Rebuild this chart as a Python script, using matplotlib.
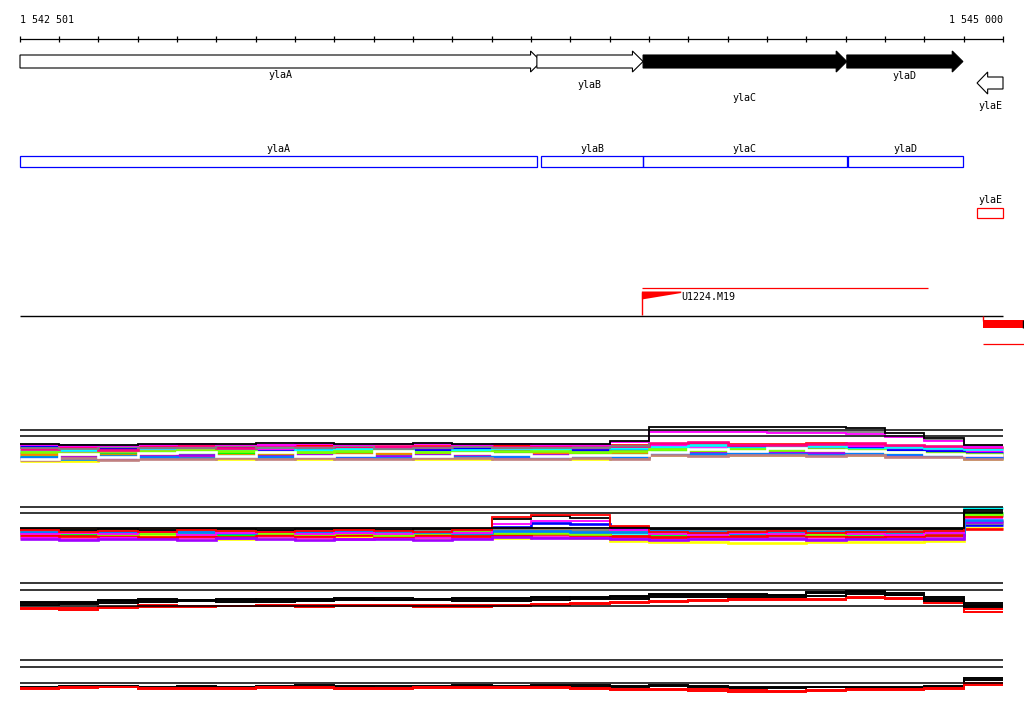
import matplotlib.pyplot as plt
from matplotlib.patches import Polygon, Rectangle

# ---- region / scale -------------------------------------------------------
START, END = 1542501, 1545000
PX_PER_BP = 983 / (END - START)          # ruler spans 983 px in the picture
X0 = START - 20 / PX_PER_BP
X1 = X0 + 1024 / PX_PER_BP

TICKS = [START] + list(range(1542600, END + 1, 100))
EDGES = TICKS  # profile segments, one per 100 bp

# ---- annotation ----------------------------------------------------------
gene_names = ["ylaA", "ylaB", "ylaC", "ylaD", "ylaE"]
gene_start = [1542501, 1543815, 1544085, 1544603, 1544934]
gene_end = [1543826, 1544085, 1544603, 1544898, 1545000]
gene_strand = [1, 1, 1, 1, -1]
gene_filled = [False, False, True, True, False]
gene_label_row = [75, 85, 98, 76, 106]

cds_start = [1542501, 1543826, 1544085, 1544605, 1544934]
cds_end = [1543815, 1544085, 1544603, 1544898, 1545000]

probe_name = "U1224.M19"
probe_start, probe_end = 1544082, 1544809
feature_start = 1544949

# ---- expression profiles (arbitrary units, 0..10 per track) ---------------
t1_refs = [8.0, 6.8]
t1_colors = ["#ff0000", "#ff00ff", "#0000ff", "#00ffff", "#00ff00", "#ffff00",
             "#ff8000", "#a000ff", "#0080ff", "#80ff00", "#ff0080", "#c08080",
             "#ffffff"]
t1_band = [
    [4.6, 4.4, 4.5, 4.9, 5.0, 4.7, 4.8, 5.1, 4.6, 4.5, 4.9, 4.8, 5.0, 4.7, 4.6, 5.0, 5.3, 5.4, 5.2, 5.3, 5.4, 5.1, 4.8, 4.6, 4.4],
    [3.4, 3.8, 3.6, 4.2, 4.4, 4.0, 4.3, 3.9, 4.1, 4.5, 4.2, 3.9, 4.1, 4.4, 4.3, 4.6, 5.0, 4.8, 5.1, 4.9, 4.7, 4.8, 4.4, 4.2, 3.8],
    [4.9, 5.0, 4.2, 3.6, 3.9, 4.4, 3.8, 4.2, 3.7, 3.6, 4.0, 4.4, 3.8, 3.6, 4.0, 4.2, 4.5, 4.3, 4.6, 4.4, 4.2, 4.5, 4.1, 3.9, 3.5],
    [3.9, 4.1, 4.8, 4.4, 3.6, 4.1, 4.6, 4.0, 4.3, 4.1, 3.7, 4.1, 4.5, 4.2, 4.8, 4.4, 4.7, 5.1, 4.4, 4.8, 4.9, 4.3, 4.6, 4.4, 4.2],
    [2.8, 3.0, 3.3, 3.0, 3.3, 3.5, 3.0, 3.4, 3.6, 3.2, 3.0, 3.3, 3.5, 3.1, 3.4, 3.2, 3.9, 3.7, 4.0, 3.8, 3.6, 3.8, 3.4, 3.2, 2.9],
    [1.8, 1.9, 2.2, 2.4, 2.6, 2.3, 2.5, 2.2, 2.4, 2.6, 2.3, 2.2, 2.5, 2.4, 2.2, 2.4, 3.1, 3.2, 3.0, 3.1, 3.2, 3.0, 2.9, 2.8, 2.3],
    [3.2, 2.8, 3.0, 3.3, 2.8, 3.1, 3.4, 3.0, 3.3, 3.5, 3.4, 3.1, 3.2, 3.5, 3.0, 3.6, 3.5, 3.9, 3.6, 3.5, 3.9, 3.5, 3.2, 3.1, 3.0],
    [2.4, 2.6, 2.5, 2.8, 3.0, 2.7, 2.8, 3.1, 2.7, 2.9, 3.1, 2.8, 2.7, 3.0, 2.6, 2.8, 3.4, 3.5, 3.3, 3.6, 3.4, 3.3, 3.0, 2.9, 2.6],
    [2.6, 2.2, 2.8, 2.6, 2.4, 2.9, 2.6, 2.7, 2.9, 2.4, 2.8, 2.6, 2.9, 2.7, 2.9, 2.6, 3.2, 3.3, 3.5, 3.2, 3.1, 3.5, 3.2, 3.0, 2.5],
    [3.6, 3.5, 3.9, 3.8, 4.1, 3.8, 3.6, 3.7, 3.9, 3.8, 3.6, 3.7, 3.9, 3.8, 3.7, 3.9, 4.2, 4.0, 4.2, 4.1, 4.3, 4.1, 3.7, 3.5, 3.3],
    [4.2, 4.6, 4.0, 4.6, 4.8, 4.5, 5.0, 4.6, 4.9, 4.8, 4.6, 5.0, 4.7, 4.9, 5.1, 4.8, 5.5, 5.6, 5.0, 5.1, 5.2, 5.4, 5.1, 4.9, 4.6],
    [2.0, 2.4, 2.0, 2.2, 2.2, 2.5, 2.2, 2.5, 2.2, 2.2, 2.5, 2.4, 2.3, 2.2, 2.4, 2.2, 3.0, 2.9, 3.1, 3.0, 2.9, 3.1, 2.7, 2.6, 2.2],
    [2.2, 3.2, 2.6, 3.4, 3.7, 2.9, 3.6, 2.8, 3.1, 3.9, 2.9, 3.5, 3.3, 2.9, 3.1, 3.0, 3.7, 4.3, 3.8, 4.5, 4.1, 3.9, 3.6, 3.3, 3.1],
]
t1_high_colors = ["#808080", "#ff00ff", "#000000"]
t1_high = [
    [4.4, 4.3, 4.6, 4.5, 4.4, 4.9, 4.4, 4.5, 4.8, 4.3, 4.4, 4.6, 4.4, 4.5, 4.4, 4.8, 7.8, 7.8, 7.8, 7.7, 7.7, 7.6, 6.8, 6.0, 4.8],
    [5.0, 4.8, 4.9, 5.1, 5.2, 5.0, 5.1, 5.2, 5.1, 5.2, 5.2, 5.1, 5.2, 5.1, 5.0, 5.6, 7.6, 7.6, 7.6, 7.5, 7.4, 7.2, 6.6, 5.8, 4.7],
    [5.2, 5.0, 5.1, 5.3, 5.3, 5.2, 5.4, 5.4, 5.3, 5.3, 5.4, 5.3, 5.2, 5.3, 5.2, 5.8, 8.6, 8.6, 8.6, 8.6, 8.6, 8.4, 7.4, 6.4, 5.0],
]

t2_refs = [7.6, 6.4]
t2_colors = ["#ffffff", "#00ffff", "#0000ff", "#ff8000", "#808080", "#00ff00",
             "#ffff00", "#ff00ff", "#ff0000", "#80ff00", "#a000ff", "#0080ff"]
t2_band = [
    [2.3, 1.5, 2.7, 1.9, 2.8, 1.7, 2.3, 2.5, 1.9, 2.4, 1.9, 2.2, 2.8, 2.2, 1.9, 2.1, 2.6, 1.8, 2.1, 2.6, 1.9, 2.1, 2.2, 2.8, 3.8],
    [2.6, 2.2, 2.4, 2.1, 2.5, 2.3, 2.0, 2.4, 2.2, 2.6, 2.3, 2.1, 3.0, 3.2, 3.0, 2.4, 2.2, 2.5, 2.3, 2.1, 2.4, 2.6, 2.3, 2.2, 7.4],
    [2.8, 3.0, 3.1, 2.9, 3.2, 3.0, 2.9, 3.1, 3.2, 3.0, 3.1, 2.8, 3.6, 4.4, 4.2, 3.2, 3.0, 3.1, 3.0, 3.1, 2.9, 3.0, 3.1, 3.0, 4.0],
    [3.1, 3.2, 3.0, 3.2, 3.1, 3.3, 3.0, 2.9, 3.0, 2.9, 3.0, 3.2, 3.1, 3.2, 3.0, 2.8, 2.9, 3.1, 2.9, 3.0, 3.1, 2.9, 3.0, 3.1, 4.8],
    [3.2, 3.1, 2.9, 3.0, 2.9, 3.1, 3.2, 3.0, 2.9, 3.2, 3.1, 3.0, 3.3, 3.0, 3.1, 2.9, 3.1, 3.0, 3.2, 2.9, 3.0, 3.1, 2.9, 3.2, 4.4],
    [1.8, 2.0, 1.9, 2.2, 1.8, 2.1, 1.7, 2.0, 2.2, 1.9, 1.8, 2.0, 2.3, 2.6, 2.5, 1.9, 1.8, 2.0, 1.9, 1.7, 2.0, 1.8, 2.0, 1.9, 6.4],
    [1.4, 1.6, 1.5, 1.8, 1.5, 1.3, 1.6, 1.4, 1.7, 1.5, 1.4, 1.6, 1.5, 1.7, 1.4, 0.8, 0.6, 0.6, 0.5, 0.5, 0.6, 0.6, 0.6, 0.8, 3.4],
    [1.6, 1.3, 1.7, 1.4, 1.6, 1.5, 1.8, 1.6, 1.3, 1.7, 1.6, 1.4, 1.8, 1.6, 1.7, 1.4, 1.5, 1.6, 1.7, 1.5, 1.3, 1.6, 1.5, 1.4, 5.8],
    [2.0, 1.8, 2.1, 1.6, 1.9, 1.7, 2.1, 1.8, 2.0, 1.8, 2.1, 1.9, 2.0, 2.2, 2.0, 1.8, 1.7, 1.9, 1.8, 2.0, 1.8, 1.7, 1.9, 2.0, 3.2],
    [2.4, 2.6, 2.2, 2.4, 2.3, 2.6, 2.4, 2.2, 2.4, 2.1, 2.4, 2.6, 2.5, 2.4, 2.3, 2.6, 2.4, 2.3, 2.6, 2.4, 2.2, 2.4, 2.5, 2.6, 6.0],
    [1.2, 1.1, 1.3, 1.2, 1.0, 1.4, 1.2, 1.1, 1.3, 1.2, 1.1, 1.3, 1.6, 1.5, 1.4, 1.2, 1.1, 1.3, 1.2, 1.3, 1.1, 1.2, 1.3, 1.2, 4.6],
    [2.7, 2.8, 2.6, 2.8, 2.7, 2.5, 2.8, 2.7, 2.6, 2.8, 2.7, 2.5, 2.9, 2.8, 2.7, 2.6, 2.8, 2.7, 2.5, 2.8, 2.7, 2.8, 2.7, 2.6, 5.0],
]
t2_high_colors = ["#ff00ff", "#000000", "#ff0000", "#000000"]
t2_high = [
    [2.2, 2.5, 2.3, 2.6, 2.1, 2.4, 2.6, 2.2, 2.5, 2.3, 2.6, 2.4, 4.2, 4.8, 4.8, 3.0, 2.3, 2.1, 2.4, 2.2, 2.5, 2.3, 2.1, 2.4, 5.4],
    [3.2, 3.0, 3.2, 3.1, 3.3, 3.2, 3.1, 3.3, 3.2, 3.0, 3.2, 3.3, 5.2, 5.8, 5.4, 3.7, 3.3, 3.3, 3.3, 3.3, 3.3, 3.3, 3.3, 3.3, 7.0],
    [3.0, 2.6, 2.9, 2.7, 3.0, 2.8, 2.6, 2.9, 3.1, 2.8, 2.7, 3.0, 5.6, 6.1, 6.1, 3.8, 2.6, 2.4, 2.6, 2.8, 2.5, 2.7, 2.6, 2.9, 5.6],
    [3.4, 3.4, 3.4, 3.4, 3.4, 3.4, 3.4, 3.4, 3.4, 3.4, 3.4, 3.4, 3.4, 3.4, 3.4, 3.4, 3.4, 3.4, 3.4, 3.4, 3.4, 3.4, 3.4, 3.4, 6.6],
]

t3_refs = [8.4, 7.0, 3.8]
t3_colors = ["#ff0000", "#ff0000", "#000000", "#000000", "#000000"]
t3_lines = [
    [3.2, 3.0, 3.4, 3.6, 3.6, 3.8, 3.8, 3.6, 3.8, 3.8, 3.7, 3.6, 3.9, 4.0, 4.2, 4.4, 4.6, 4.8, 5.0, 5.0, 5.0, 5.4, 5.3, 4.4, 2.6],
    [3.4, 3.5, 3.6, 4.0, 3.8, 3.8, 4.0, 4.0, 4.0, 4.0, 4.0, 4.0, 4.0, 4.2, 4.4, 4.6, 4.8, 5.0, 5.2, 5.2, 5.2, 5.6, 5.5, 4.8, 3.2],
    [4.0, 4.2, 4.4, 4.6, 4.8, 4.6, 4.6, 4.8, 5.0, 5.0, 5.0, 4.8, 4.8, 5.0, 5.2, 5.2, 5.6, 5.6, 5.6, 5.6, 5.8, 6.2, 6.0, 4.8, 3.6],
    [4.4, 4.6, 5.0, 5.2, 5.1, 5.0, 5.2, 5.2, 5.4, 5.4, 5.3, 5.2, 5.2, 5.4, 5.6, 5.6, 6.0, 6.0, 6.0, 6.0, 6.4, 6.6, 6.4, 5.2, 4.0],
    [4.6, 4.4, 4.8, 5.0, 5.0, 5.2, 5.0, 5.0, 5.2, 5.0, 5.2, 5.4, 5.4, 5.6, 5.4, 5.8, 6.2, 6.2, 6.2, 6.0, 6.6, 6.8, 6.0, 5.6, 4.4],
]

t4_refs = [8.0, 6.6, 3.4]
t4_colors = ["#000000", "#000000", "#ff0000", "#ff0000"]
t4_lines = [
    [2.6, 2.8, 2.8, 2.6, 2.6, 2.6, 2.8, 3.0, 2.8, 2.8, 2.8, 2.8, 2.8, 3.0, 3.0, 2.8, 2.8, 2.8, 2.6, 2.6, 2.6, 2.6, 2.6, 2.8, 4.0],
    [2.4, 2.6, 2.6, 2.4, 2.8, 2.4, 2.6, 2.6, 2.6, 2.4, 2.6, 3.0, 2.6, 2.8, 2.6, 2.6, 3.0, 2.6, 2.4, 2.4, 2.6, 2.4, 2.4, 2.6, 4.4],
    [2.2, 2.4, 2.6, 2.2, 2.2, 2.2, 2.4, 2.4, 2.2, 2.2, 2.4, 2.4, 2.4, 2.4, 2.2, 2.0, 2.0, 1.8, 1.6, 1.6, 1.8, 2.0, 2.0, 2.2, 3.0],
    [2.4, 2.6, 2.6, 2.4, 2.4, 2.4, 2.6, 2.6, 2.4, 2.4, 2.6, 2.6, 2.6, 2.6, 2.4, 2.2, 2.2, 2.2, 2.0, 1.8, 2.0, 2.2, 2.2, 2.4, 3.4],
]

FONT = dict(family="DejaVu Sans Mono", fontsize=7.2)
W, H = 1024, 714

fig = plt.figure(figsize=(W / 100, H / 100), dpi=100)
ax = fig.add_axes([0, 0, 1, 1])
ax.set_xlim(X0, X1)
ax.set_ylim(H, 0)   # annotation rows counted from the top
ax.axis("off")

# ruler
ax.hlines(38.5, START, END, color="black", lw=0.9)
ax.vlines(TICKS, 35.5, 41.5, color="black", lw=0.9)
ax.text(START, 20, "1 542 501", ha="left", va="center", **FONT)
ax.text(END, 20, "1 545 000", ha="right", va="center", **FONT)

# gene arrows
head = 27
for name, s, e, strand, filled, row in zip(gene_names, gene_start, gene_end,
                                           gene_strand, gene_filled, gene_label_row):
    if strand > 0:
        pts = [(s, 55), (e - head, 55), (e - head, 51), (e, 61.5),
               (e - head, 72), (e - head, 68), (s, 68)]
    else:
        pts = [(s, 83), (s + head, 72), (s + head, 77), (e, 77),
               (e, 89), (s + head, 89), (s + head, 94)]
    ax.add_patch(Polygon(pts, closed=True, facecolor="black" if filled else "white",
                         edgecolor="black", lw=0.8, zorder=3))
    ax.text((s + min(e, END)) / 2, row, name, ha="center", va="center", **FONT)

# CDS boxes
for i, (name, s, e) in enumerate(zip(gene_names, cds_start, cds_end)):
    if i < 4:
        ax.add_patch(Rectangle((s, 155.5), e - s, 11, fill=False,
                               edgecolor="#0000ff", lw=0.9))
        ax.text((s + e) / 2, 149, name, ha="center", va="center", **FONT)
    else:
        ax.add_patch(Rectangle((s, 207.5), e - s, 10, fill=False,
                               edgecolor="#ff0000", lw=0.9))
        ax.text((s + e) / 2, 200, name, ha="center", va="center", **FONT)

# probe / feature track
ax.hlines(287.5, probe_start, probe_end, color="#ff0000", lw=0.9)
ax.vlines(probe_start, 292, 315, color="#ff0000", lw=1.0)
ax.add_patch(Polygon([(probe_start, 291.5), (probe_start + 100, 291.5),
                      (probe_start + 100, 293), (probe_start, 299.5)],
                     closed=True, facecolor="#ff0000", edgecolor="none"))
ax.text(probe_start + 100, 297.5, probe_name, ha="left", va="center", **FONT)
ax.hlines(315.5, START, END, color="black", lw=1.0)
ax.vlines(feature_start, 315.5, 321, color="#ff0000", lw=1.0)
ax.add_patch(Rectangle((feature_start, 320), X1 - feature_start, 8,
                       facecolor="#ff0000", edgecolor="none"))
ax.vlines(X1 - 1.5 / PX_PER_BP, 320, 328, color="black", lw=1.0)
ax.hlines(343.5, feature_start, X1, color="#ff0000", lw=0.9)


def profile_axes(top_row):
    a = fig.add_axes([0, 1 - (top_row + 50) / H, 1, 50 / H])
    a.set_xlim(X0, X1)
    a.set_ylim(0, 10)
    a.axis("off")
    return a


def draw_refs(a, refs):
    a.hlines(refs, START, END, color="black", lw=1.1)


# track 1
a1 = profile_axes(420)
for c, v in zip(t1_colors, t1_band):
    a1.stairs(v, EDGES, baseline=None, color=c, lw=1.9)
draw_refs(a1, t1_refs)
for c, v in zip(t1_high_colors, t1_high):
    a1.stairs(v, EDGES, baseline=None, color=c, lw=1.3)

# track 2
a2 = profile_axes(495)
for c, v in zip(t2_colors, t2_band):
    a2.stairs(v, EDGES, baseline=None, color=c, lw=1.9)
draw_refs(a2, t2_refs)
for c, v in zip(t2_high_colors, t2_high):
    a2.stairs(v, EDGES, baseline=None, color=c, lw=1.3)

# track 3
a3 = profile_axes(575)
draw_refs(a3, t3_refs)
for c, v in zip(t3_colors, t3_lines):
    a3.stairs(v, EDGES, baseline=None, color=c, lw=1.4)

# track 4
a4 = profile_axes(650)
draw_refs(a4, t4_refs)
for c, v in zip(t4_colors, t4_lines):
    a4.stairs(v, EDGES, baseline=None, color=c, lw=1.4)

fig.savefig("out.png", dpi=100)
